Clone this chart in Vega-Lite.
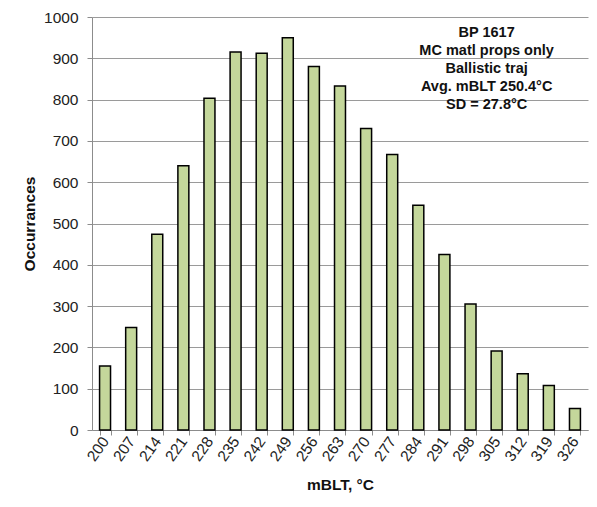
{
  "$schema": "https://vega.github.io/schema/vega-lite/v6.json",
  "width": 496,
  "height": 413,
  "autosize": {"type": "none"},
  "padding": {"left": 92, "top": 17, "right": 9, "bottom": 77},
  "background": "white",
  "config": {
    "view": {"stroke": null},
    "font": "Liberation Sans",
    "axis": {
      "labelFont": "Liberation Sans",
      "titleFont": "Liberation Sans",
      "labelFontSize": 15.5,
      "titleFontSize": 15.5,
      "labelColor": "#222",
      "titleColor": "#111",
      "titleFontWeight": "bold",
      "domainColor": "#8c8c8c",
      "tickColor": "#8c8c8c",
      "gridColor": "#9a9a9a",
      "tickSize": 5
    }
  },
  "layer": [
    {
      "data": {
        "values": [
          {"bin": "200", "count": 155},
          {"bin": "207", "count": 248},
          {"bin": "214", "count": 474},
          {"bin": "221", "count": 640},
          {"bin": "228", "count": 803},
          {"bin": "235", "count": 915},
          {"bin": "242", "count": 912},
          {"bin": "249", "count": 950},
          {"bin": "256", "count": 880},
          {"bin": "263", "count": 833},
          {"bin": "270", "count": 730},
          {"bin": "277", "count": 667},
          {"bin": "284", "count": 544},
          {"bin": "291", "count": 425},
          {"bin": "298", "count": 305},
          {"bin": "305", "count": 191},
          {"bin": "312", "count": 136},
          {"bin": "319", "count": 108},
          {"bin": "326", "count": 52}
        ]
      },
      "mark": {"type": "bar", "fill": "#c4d79b", "stroke": "#000", "strokeWidth": 1.5},
      "encoding": {
        "x": {
          "field": "bin",
          "type": "ordinal",
          "sort": null,
          "title": "mBLT, °C",
          "scale": {"paddingInner": 0.58, "paddingOuter": 0.29},
          "axis": {
            "labelAngle": -55,
            "labelAlign": "right",
            "labelBaseline": "middle",
            "labelPadding": 3,
            "tickBand": "extent",
            "titlePadding": 13
          }
        },
        "y": {
          "field": "count",
          "type": "quantitative",
          "title": "Occurrances",
          "scale": {"domain": [0, 1000], "nice": false},
          "axis": {
            "values": [0, 100, 200, 300, 400, 500, 600, 700, 800, 900, 1000],
            "format": "d",
            "grid": true,
            "labelPadding": 9,
            "titlePadding": 6
          }
        }
      }
    },
    {
      "data": {
        "values": [
          {"line": "BP 1617", "pos": 962},
          {"line": "MC matl props only", "pos": 917},
          {"line": "Ballistic traj", "pos": 874},
          {"line": "Avg. mBLT 250.4°C", "pos": 831},
          {"line": "SD = 27.8°C", "pos": 786}
        ]
      },
      "mark": {"type": "text", "font": "Liberation Sans", "fontSize": 14.5, "fontWeight": "bold", "color": "#111", "align": "center", "baseline": "middle", "dx": -10},
      "encoding": {
        "x": {"datum": "305", "type": "ordinal"},
        "y": {"field": "pos", "type": "quantitative"},
        "text": {"field": "line"}
      }
    }
  ]
}
